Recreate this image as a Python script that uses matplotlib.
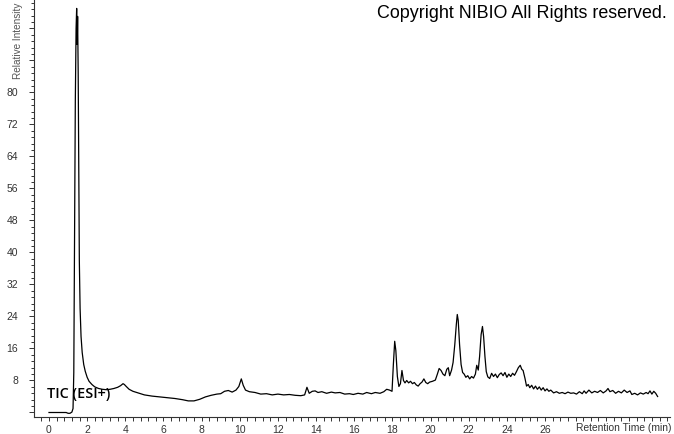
import matplotlib
matplotlib.use("Agg")
import matplotlib.pyplot as plt
from matplotlib.ticker import MultipleLocator

plt.rcParams['font.family'] = ['Liberation Sans', 'DejaVu Sans']

# Retention time (min) and relative intensity
rt_min = [
    0.0, 0.5, 0.9, 1.0, 1.1, 1.2, 1.26, 1.30, 1.34, 1.38, 1.42, 1.45, 1.48, 1.50,
    1.53, 1.56, 1.59, 1.63, 1.68, 1.74, 1.82, 1.90, 2.00, 2.10, 2.25, 2.40, 2.60,
    2.80, 3.00, 3.20, 3.40, 3.60, 3.75, 3.88, 3.95, 4.05, 4.20, 4.40, 4.60, 4.80,
    5.00, 5.40, 5.80, 6.20, 6.60, 7.00, 7.30, 7.60, 7.90, 8.20, 8.50, 8.80, 9.00,
    9.20, 9.40, 9.60, 9.80, 9.95, 10.08, 10.18, 10.30, 10.50, 10.80, 11.10, 11.40,
    11.70, 12.00, 12.30, 12.60, 12.90, 13.20, 13.40, 13.52, 13.64, 13.80, 13.95,
    14.10, 14.30, 14.55, 14.80, 15.00, 15.25, 15.50, 15.75, 15.95, 16.20, 16.45,
    16.65, 16.90, 17.10, 17.35, 17.55, 17.70, 17.85, 17.98, 18.05, 18.12, 18.18,
    18.26, 18.34, 18.42, 18.50, 18.58, 18.66, 18.75, 18.85, 18.95, 19.05, 19.15,
    19.25, 19.35, 19.45, 19.55, 19.65, 19.75, 19.85, 19.95, 20.10, 20.25, 20.35,
    20.45, 20.55, 20.65, 20.75, 20.85, 20.93, 21.00, 21.10, 21.18, 21.27, 21.35,
    21.40, 21.45, 21.52, 21.60, 21.68, 21.76, 21.85, 21.95, 22.05, 22.15, 22.25,
    22.35, 22.42, 22.50, 22.57, 22.65, 22.72, 22.78, 22.85, 22.92, 23.00, 23.10,
    23.20, 23.30, 23.40, 23.50, 23.60, 23.70, 23.80, 23.90, 24.00, 24.10, 24.20,
    24.30, 24.40, 24.50, 24.60, 24.70, 24.78, 24.85, 24.95, 25.03, 25.12, 25.20,
    25.30, 25.40, 25.50, 25.60, 25.70, 25.80, 25.90, 26.00, 26.10, 26.20, 26.30,
    26.45, 26.60, 26.75, 26.90, 27.05, 27.20, 27.35, 27.50, 27.65, 27.80, 27.95,
    28.05, 28.15, 28.30, 28.45, 28.60, 28.75, 28.90, 29.05, 29.20, 29.30, 29.40,
    29.55, 29.70, 29.85, 30.00, 30.15, 30.30, 30.45, 30.55, 30.70, 30.85, 31.00,
    31.15, 31.30, 31.40, 31.50, 31.60, 31.70, 31.80, 31.90,
]
rel_intensity = [
    0.0, 0.0, 0.0, -0.2, -0.2, 0.1, 1.0, 10, 45, 78, 96, 101, 92, 99,
    85, 60, 38, 26, 19, 15, 12, 10.3, 8.8, 7.8, 7.0, 6.4, 6.0,
    5.8, 5.7, 5.8, 6.0, 6.3, 6.7, 7.2, 7.0, 6.5, 5.8, 5.3, 5.0, 4.7,
    4.4, 4.1, 3.9, 3.7, 3.5, 3.2, 2.9, 2.9, 3.3, 3.9, 4.3, 4.6, 4.7,
    5.3, 5.5, 5.1, 5.6, 6.5, 8.4, 6.8, 5.6, 5.2, 5.0, 4.6, 4.7,
    4.4, 4.6, 4.4, 4.5, 4.3, 4.2, 4.4, 6.3, 4.8, 5.3, 5.4,
    5.0, 5.2, 4.8, 5.1, 4.9, 5.0, 4.6, 4.7, 4.5, 4.8, 4.6,
    5.0, 4.7, 5.0, 4.8, 5.2, 5.8, 5.6, 5.3, 12, 17.8, 15.5,
    9, 6.5, 7.2, 10.5, 8, 7.4, 8.0, 7.4, 7.8, 7.2, 7.5,
    6.9, 6.6, 7.2, 7.6, 8.4, 7.5, 7.2, 7.6, 7.8, 8.1, 9.5,
    11.0, 10.5, 9.6, 9.2, 10.8, 11.2, 9.2, 10.6, 12.5, 17, 22,
    24.5, 23, 17, 12, 10, 9.6, 8.8, 9.2, 8.4, 9.0, 8.6,
    9.6, 11.8, 10.6, 14, 19.5, 21.5, 19, 14, 10.2, 8.9, 8.5,
    9.8, 9.0, 9.6, 8.7, 9.5, 9.9, 9.2, 10.0, 8.8, 9.6, 9.0,
    9.8, 9.3, 10.2, 11.2, 11.8, 10.8, 10.5, 8.5, 6.6, 7.0, 6.2,
    6.8, 5.9, 6.6, 5.8, 6.4, 5.6, 6.2, 5.4, 5.9, 5.3, 5.6,
    4.9, 5.2, 4.8, 5.0, 4.7, 5.1, 4.8, 4.9, 4.6, 5.2, 4.7,
    5.4, 4.8, 5.6, 4.9, 5.3, 5.0, 5.5, 4.9, 5.4, 6.0, 5.2,
    5.5, 4.8, 5.3, 4.9, 5.6, 5.0, 5.4, 4.5, 4.8, 4.4, 4.9,
    4.6, 5.0, 4.7, 5.4, 4.6, 5.3, 4.8, 4.0,
]

x_tick_values = [0, 2, 4, 6, 8, 10, 12, 14, 16, 18, 20, 22, 24, 26, 28, 30, 32]
x_tick_labels = ['0', '2', '4', '6', '8', '10', '12', '14', '16', '18', '20',
                 '22', '24', '26', '', '', '']
y_tick_values = [0, 8, 16, 24, 32, 40, 48, 56, 64, 72, 80, 88, 96]
y_tick_labels = ['', '8', '16', '24', '32', '40', '48', '56', '64', '72', '80', '', '']

W, H = 674, 434
fig = plt.figure(figsize=(W / 100, H / 100), dpi=100)
ax = fig.add_axes([34 / W, 1 - 417 / H, (670 - 34) / W, 417 / H])

ax.plot(rt_min, rel_intensity, color='black', lw=0.9)

ax.set_xlim(-0.786, 32.55)
ax.set_ylim(-1.125, 103.1)

for s in ['top', 'right']:
    ax.spines[s].set_visible(False)
for s in ['left', 'bottom']:
    ax.spines[s].set_color('#333333')
    ax.spines[s].set_linewidth(0.8)

ax.set_xticks(x_tick_values)
ax.set_xticklabels(x_tick_labels)
ax.xaxis.set_minor_locator(MultipleLocator(0.4))
ax.set_yticks(y_tick_values)
ax.set_yticklabels(y_tick_labels)
ax.yaxis.set_minor_locator(MultipleLocator(1.6))

ax.tick_params(axis='x', which='both', direction='out', length=2.6, width=0.7,
               color='#333333', labelsize=7.5, labelcolor='#333333', pad=3)
ax.tick_params(axis='y', which='major', direction='out', length=3.5, width=0.7,
               color='#333333', labelsize=7.5, labelcolor='#333333', pad=8)
ax.tick_params(axis='y', which='minor', direction='out', length=2.2, width=0.7,
               color='#333333')

fig.text(18 / W, 1 - 79 / H, 'Relative Intensity', rotation=90, ha='center',
         va='bottom', fontsize=7.2, color='#555555')
fig.text(672 / W, 1 - 428 / H, 'Retention Time (min)', ha='right', va='center',
         fontsize=7.4, color='#333333')
fig.text(667 / W, 1 - 14 / H, 'Copyright NIBIO All Rights reserved.', ha='right',
         va='center', fontsize=12.9, color='black')
fig.text(47 / W, 1 - 394 / H, 'TIC (ESI+)', ha='left', va='center',
         fontsize=10.4, color='black', family=['Open Sans', 'DejaVu Sans'],
         fontweight='semibold')

fig.savefig('out.png', dpi=100)
